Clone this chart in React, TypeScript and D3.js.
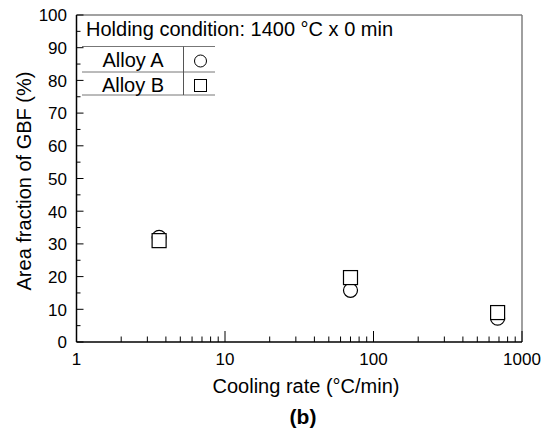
import React from "react";
import * as d3 from "d3";

// Cooling rate (°C/min) and area fraction of GBF (%) per alloy
const coolingRates = [3.6, 70, 685];
const alloyA = [32, 15.8, 7.3];
const alloyB = [31, 19.7, 9.0];

const xTickValues = [1, 10, 100, 1000];
const yTickValues = [0, 10, 20, 30, 40, 50, 60, 70, 80, 90, 100];
const legendRows = ["Alloy A", "Alloy B"];

const W = 548;
const H = 434;
const M = { left: 76.5, right: 522, top: 15, bottom: 342 };
const FONT = "'Liberation Sans', Arial, Helvetica, sans-serif";

export default function App() {
  const x = d3.scaleLog().domain([1, 1000]).range([M.left, M.right]);
  const y = d3.scaleLinear().domain([0, 100]).range([M.bottom, M.top]);

  // minor ticks for each decade
  const xMinor: number[] = [];
  for (const d of [1, 10, 100]) for (let k = 2; k <= 9; k++) xMinor.push(d * k);
  const yMinor = d3.range(5, 100, 10);

  const r = 7;
  const s = 14;

  return (
    <svg
      width={W}
      height={H}
      style={{ position: "absolute", left: 0, top: 0, background: "#fff" }}
      fontFamily={FONT}
    >
      {/* frame */}
      <line x1={M.left} x2={M.right} y1={M.top} y2={M.top} stroke="#444" strokeWidth={1.2} />
      <line x1={M.right} x2={M.right} y1={M.top} y2={M.bottom} stroke="#777" strokeWidth={1.4} />

      {/* x ticks (inward) */}
      {xTickValues.map((v) => (
        <g key={"xt" + v}>
          <line x1={x(v)} x2={x(v)} y1={M.bottom} y2={M.bottom - 11} stroke="#000" strokeWidth={1} />
          <text x={x(v)} y={365} fontSize={17} textAnchor="middle" fill="#000">
            {v}
          </text>
        </g>
      ))}
      {xMinor.map((v) => (
        <line key={"xm" + v} x1={x(v)} x2={x(v)} y1={M.bottom} y2={M.bottom - 5.5} stroke="#000" strokeWidth={1} />
      ))}

      {/* y ticks (inward) */}
      {yTickValues.map((v) => (
        <g key={"yt" + v}>
          <line x1={M.left} x2={M.left + 7} y1={y(v)} y2={y(v)} stroke="#000" strokeWidth={1} />
          <text x={M.left - 9.5} y={y(v) + 6.3} fontSize={17} textAnchor="end" fill="#000">
            {v}
          </text>
        </g>
      ))}
      {yMinor.map((v) => (
        <line key={"ym" + v} x1={M.left} x2={M.left + 4} y1={y(v)} y2={y(v)} stroke="#000" strokeWidth={1} />
      ))}

      {/* axes */}
      <line x1={M.left} x2={M.left} y1={M.top} y2={M.bottom} stroke="#000" strokeWidth={1.5} />
      <line x1={M.left} x2={M.right} y1={M.bottom} y2={M.bottom} stroke="#000" strokeWidth={1.5} />

      {/* axis titles */}
      <text x={306} y={393} fontSize={20} textAnchor="middle" fill="#000">
        Cooling rate (°C/min)
      </text>
      <text
        transform={`translate(31,181) rotate(-90)`}
        fontSize={20}
        textAnchor="middle"
        fill="#000"
      >
        Area fraction of GBF (%)
      </text>
      <text x={303} y={424} fontSize={21} fontWeight="bold" textAnchor="middle" fill="#000">
        (b)
      </text>

      {/* legend */}
      <text x={86} y={36} fontSize={20} fill="#000">
        Holding condition: 1400 °C x 0 min
      </text>
      {[46.5, 72, 95].map((ly) => (
        <line key={"lg" + ly} x1={82} x2={215} y1={ly} y2={ly} stroke="#777" strokeWidth={1} />
      ))}
      <line x1={183.5} x2={183.5} y1={46.5} y2={95} stroke="#555" strokeWidth={1} />
      {legendRows.map((name, i) => (
        <text key={name} x={133} y={i === 0 ? 66.5 : 91.5} fontSize={20} textAnchor="middle" fill="#000">
          {name}
        </text>
      ))}
      <circle cx={200.5} cy={61} r={6} fill="#fff" stroke="#000" strokeWidth={1} />
      <rect x={194.5} y={79.5} width={12} height={12} fill="#fff" stroke="#000" strokeWidth={1} />

      {/* Alloy A: circles */}
      {coolingRates.map((c, i) => (
        <circle key={"a" + i} cx={x(c)} cy={y(alloyA[i])} r={r} fill="#fff" stroke="#000" strokeWidth={1.2} />
      ))}
      {/* Alloy B: squares */}
      {coolingRates.map((c, i) => (
        <rect
          key={"b" + i}
          x={x(c) - s / 2}
          y={y(alloyB[i]) - s / 2}
          width={s}
          height={s}
          fill="#fff"
          stroke="#000"
          strokeWidth={1.2}
        />
      ))}
    </svg>
  );
}
